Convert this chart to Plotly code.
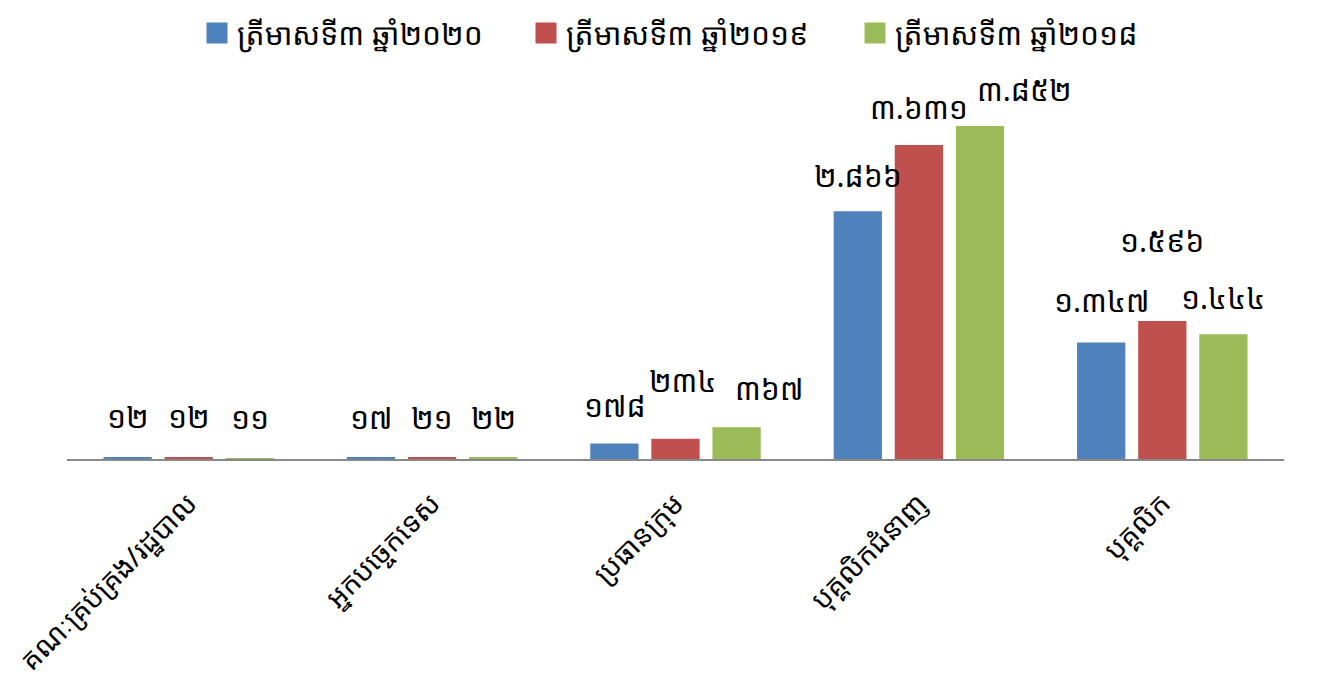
import plotly.graph_objects as go

categories = ["គណៈគ្រប់គ្រង/រដ្ឋបាល", "អ្នកបច្ចេកទេស", "ប្រធានក្រុម", "បុគ្គលិកជំនាញ", "បុគ្គលិក"]
series_names = ["ត្រីមាសទី៣ ឆ្នាំ២០២០", "ត្រីមាសទី៣ ឆ្នាំ២០១៩", "ត្រីមាសទី៣ ឆ្នាំ២០១៨"]
values_2020 = [12, 17, 178, 2866, 1347]
values_2019 = [12, 21, 234, 3631, 1596]
values_2018 = [11, 22, 367, 3852, 1444]

colors = ["#4F81BD", "#C0504D", "#9BBB59"]
FONT = "Noto Sans Khmer, Khmer OS, DejaVu Sans, sans-serif"

# label pixel offsets (style only)
label_yshift = [
    [41, 40, 38, 36, 42],
    [41, 40, 58, 38, 81],
    [41, 40, 39, 36, 37],
]
label_xshift_extra = [
    [0, 0, 0, 0, 0],
    [0, 0, 7, 0, 0],
    [0, 0, 32, 45, 0],
]

KH_DIGITS = "០១២៣៤៥៦៧៨៩"


def to_khmer(n):
    s = f"{n:,}".replace(",", ".")
    return "".join(KH_DIGITS[int(c)] if c.isdigit() else c for c in s)


fig = go.Figure()
all_series = [values_2020, values_2019, values_2018]
for i, (name, vals) in enumerate(zip(series_names, all_series)):
    fig.add_trace(go.Bar(
        x=categories, y=vals, name=name,
        marker=dict(color=colors[i], line=dict(width=0)),
        showlegend=False,
    ))
    fig.add_trace(go.Scatter(
        x=[None], y=[None], mode="markers", name=name,
        marker=dict(symbol="square", size=16, color=colors[i],
                    line=dict(width=5, color=colors[i])),
        showlegend=True,
    ))

slot = 61
annotations = []
for i, vals in enumerate(all_series):
    for j, v in enumerate(vals):
        annotations.append(dict(
            x=categories[j], y=v, xref="x", yref="y",
            text=to_khmer(v), showarrow=False,
            xshift=(i - 1) * slot + label_xshift_extra[i][j],
            yshift=label_yshift[i][j],
            yanchor="middle", xanchor="center",
            font=dict(size=30, color="#000000", family=FONT),
        ))

fig.update_layout(
    width=1325, height=669,
    margin=dict(l=59, r=49, t=72, b=218),
    paper_bgcolor="white", plot_bgcolor="white",
    barmode="group", bargap=0.247, bargroupgap=0.21,
    font=dict(family=FONT, size=24, color="#000000"),
    legend=dict(
        orientation="h", xref="container", yref="container",
        x=0.5 + 20 / 1325, xanchor="center", y=1 - 25 / 669, yanchor="middle",
        font=dict(size=30, family=FONT), itemsizing="trace",
        itemwidth=30, tracegroupgap=0,
        entrywidth=284, entrywidthmode="pixels",
    ),
    xaxis=dict(
        showline=True, linecolor="#888888", linewidth=2,
        ticks="outside", ticklen=15, tickcolor="rgba(0,0,0,0)",
        tickangle=-45, tickfont=dict(size=28, family=FONT),
        showgrid=False, automargin=False,
    ),
    yaxis=dict(range=[0, 4384], visible=False, showgrid=False, zeroline=False),
    annotations=annotations,
)

fig.write_html("out.html")
